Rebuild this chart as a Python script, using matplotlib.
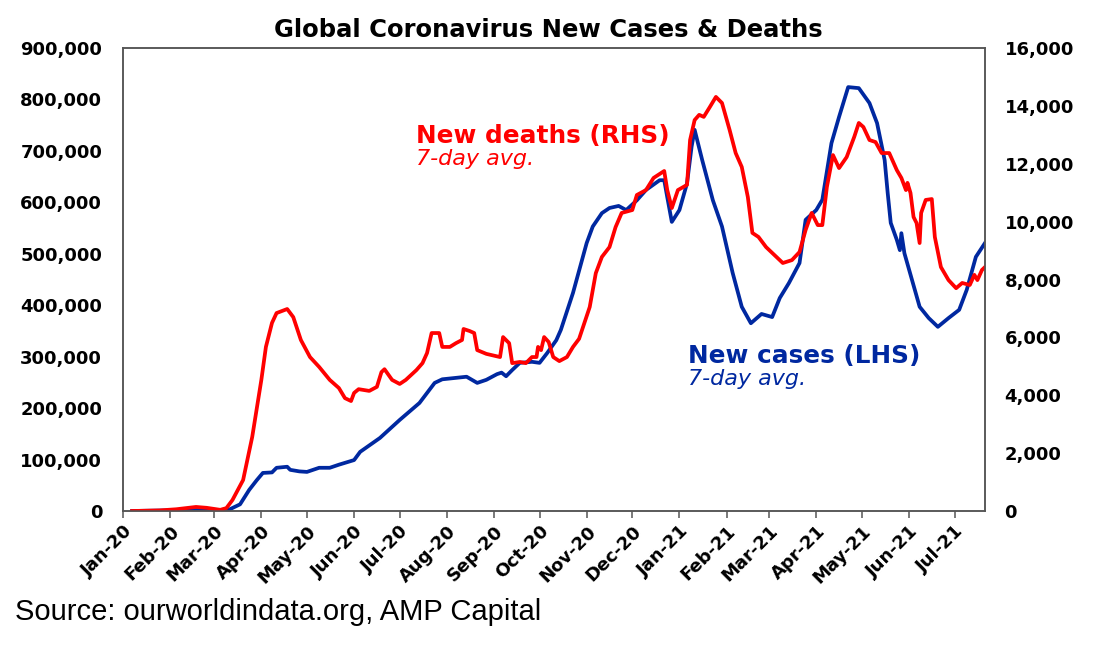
import numpy as np
import pandas as pd
import matplotlib
matplotlib.use('Agg')
import matplotlib.pyplot as plt
import matplotlib.dates as mdates
from matplotlib.ticker import FuncFormatter, MultipleLocator

# 7-day avg new cases (LHS)
case_dates = ['2020-01-07', '2020-02-16', '2020-03-01', '2020-03-05', '2020-03-11', '2020-03-18',
              '2020-03-24', '2020-03-29', '2020-04-02', '2020-04-08', '2020-04-11', '2020-04-18',
              '2020-04-20', '2020-04-26', '2020-05-01', '2020-05-09', '2020-05-16', '2020-05-22',
              '2020-06-01', '2020-06-05', '2020-06-18', '2020-07-01', '2020-07-14', '2020-07-24',
              '2020-07-29', '2020-08-14', '2020-08-21', '2020-08-27', '2020-09-03', '2020-09-06',
              '2020-09-09', '2020-09-13', '2020-09-18', '2020-09-26', '2020-10-01', '2020-10-06',
              '2020-10-12', '2020-10-15', '2020-10-23', '2020-11-01', '2020-11-05', '2020-11-11',
              '2020-11-16', '2020-11-22', '2020-11-27', '2020-12-04', '2020-12-10', '2020-12-19',
              '2020-12-22', '2020-12-24', '2020-12-27', '2021-01-01', '2021-01-06', '2021-01-09',
              '2021-01-11', '2021-01-16', '2021-01-23', '2021-01-29', '2021-02-05', '2021-02-11',
              '2021-02-17', '2021-02-24', '2021-03-03', '2021-03-08', '2021-03-14', '2021-03-21',
              '2021-03-25', '2021-04-01', '2021-04-05', '2021-04-11', '2021-04-16', '2021-04-22',
              '2021-04-29', '2021-05-06', '2021-05-11', '2021-05-16', '2021-05-18', '2021-05-20',
              '2021-05-24', '2021-05-26', '2021-05-27', '2021-05-29', '2021-06-03', '2021-06-08',
              '2021-06-14', '2021-06-20', '2021-06-27', '2021-07-04', '2021-07-09', '2021-07-15',
              '2021-07-21']
case_vals = [0, 2000, 1500, 2000, 3000, 13000,
             41000, 60000, 74000, 75000, 84000, 86000,
             80000, 77000, 76000, 84000, 84000, 90000,
             99000, 115000, 142000, 177000, 210000, 249000,
             256000, 261000, 249000, 255000, 266000, 269000,
             262000, 274000, 288000, 290000, 288000, 307000,
             332000, 352000, 424000, 521000, 553000, 579000,
             589000, 593000, 585000, 604000, 624000, 643000,
             643000, 610000, 562000, 585000, 637000, 708000,
             741000, 682000, 604000, 553000, 463000, 397000,
             365000, 383000, 377000, 414000, 443000, 482000,
             566000, 585000, 605000, 715000, 766000, 824000,
             822000, 793000, 754000, 682000, 618000, 560000,
             527000, 507000, 540000, 501000, 449000, 397000,
             375000, 358000, 375000, 391000, 430000, 494000,
             521000]

# 7-day avg new deaths (RHS)
death_dates = ['2020-01-07', '2020-01-25', '2020-02-05', '2020-02-18', '2020-02-25', '2020-03-05',
               '2020-03-09', '2020-03-13', '2020-03-20', '2020-03-26', '2020-04-01', '2020-04-04',
               '2020-04-08', '2020-04-11', '2020-04-18', '2020-04-22', '2020-04-27', '2020-05-03',
               '2020-05-09', '2020-05-16', '2020-05-22', '2020-05-26', '2020-05-30', '2020-06-01',
               '2020-06-04', '2020-06-11', '2020-06-16', '2020-06-19', '2020-06-21', '2020-06-26',
               '2020-07-01', '2020-07-05', '2020-07-12', '2020-07-16', '2020-07-19', '2020-07-22',
               '2020-07-27', '2020-07-29', '2020-08-03', '2020-08-07', '2020-08-11', '2020-08-12',
               '2020-08-16', '2020-08-19', '2020-08-21', '2020-08-27', '2020-09-05', '2020-09-07',
               '2020-09-11', '2020-09-13', '2020-09-18', '2020-09-22', '2020-09-26', '2020-09-29',
               '2020-09-30', '2020-10-02', '2020-10-04', '2020-10-07', '2020-10-10', '2020-10-14',
               '2020-10-19', '2020-10-23', '2020-10-27', '2020-11-03', '2020-11-07', '2020-11-11',
               '2020-11-16', '2020-11-20', '2020-11-24', '2020-12-01', '2020-12-04', '2020-12-10',
               '2020-12-15', '2020-12-22', '2020-12-24', '2020-12-27', '2020-12-31', '2021-01-06',
               '2021-01-08', '2021-01-11', '2021-01-14', '2021-01-17', '2021-01-21', '2021-01-25',
               '2021-01-29', '2021-02-03', '2021-02-07', '2021-02-11', '2021-02-15', '2021-02-18',
               '2021-02-22', '2021-02-27', '2021-03-03', '2021-03-10', '2021-03-16', '2021-03-21',
               '2021-03-25', '2021-03-29', '2021-04-02', '2021-04-05', '2021-04-08', '2021-04-12',
               '2021-04-16', '2021-04-21', '2021-04-26', '2021-04-29', '2021-05-02', '2021-05-06',
               '2021-05-10', '2021-05-14', '2021-05-19', '2021-05-24', '2021-05-27', '2021-05-30',
               '2021-05-31', '2021-06-02', '2021-06-04', '2021-06-06', '2021-06-08', '2021-06-09',
               '2021-06-12', '2021-06-16', '2021-06-18', '2021-06-22', '2021-06-27', '2021-07-02',
               '2021-07-06', '2021-07-11', '2021-07-14', '2021-07-16', '2021-07-19', '2021-07-21']
death_vals = [0, 20, 60, 140, 110, 40,
              100, 380, 1070, 2560, 4530, 5670,
              6500, 6840, 6980, 6700, 5910, 5320,
              4980, 4530, 4250, 3900, 3800, 4080,
              4210, 4150, 4290, 4800, 4900, 4530,
              4390, 4530, 4870, 5110, 5460, 6150,
              6150, 5670, 5670, 5800, 5910, 6290,
              6220, 6150, 5560, 5430, 5320, 6010,
              5800, 5110, 5150, 5110, 5320, 5320,
              5670, 5560, 6010, 5840, 5320, 5180,
              5320, 5670, 5950, 7050, 8220, 8780,
              9120, 9810, 10300, 10400, 10920, 11090,
              11510, 11750, 11090, 10470, 11090, 11270,
              12820, 13510, 13690, 13620, 13960, 14310,
              14100, 13170, 12370, 11890, 10850, 9610,
              9470, 9120, 8920, 8570, 8670, 8950,
              9710, 10300, 9880, 9880, 11200, 12300,
              11850, 12230, 12930, 13410, 13270, 12820,
              12750, 12370, 12370, 11780, 11510, 11090,
              11340, 10990, 10160, 9950, 9260, 10300,
              10750, 10780, 9470, 8430, 7980, 7700,
              7880, 7810, 8160, 7980, 8330, 8430]

RED = '#FF0000'
BLUE = '#0028A0'
GRAY = '#555555'

case_dt = pd.to_datetime(case_dates)
death_dt = pd.to_datetime(death_dates)

fig = plt.figure(figsize=(11.06, 6.53), dpi=100)
ax = fig.add_axes([123 / 1106, 1 - 511 / 653, (985 - 123) / 1106, (511 - 48) / 653])
ax2 = ax.twinx()

ax.plot(case_dt, case_vals, color=BLUE, lw=2.7, solid_joinstyle='round')
ax2.plot(death_dt, death_vals, color=RED, lw=2.7, solid_joinstyle='round')

ax.set_xlim(pd.Timestamp('2020-01-01'), pd.Timestamp('2021-07-21'))
ax.set_ylim(0, 900000)
ax2.set_ylim(0, 16000)
ax.yaxis.set_major_locator(MultipleLocator(100000))
ax2.yaxis.set_major_locator(MultipleLocator(2000))
comma = FuncFormatter(lambda v, p: f'{int(v):,}')
ax.yaxis.set_major_formatter(comma)
ax2.yaxis.set_major_formatter(comma)

ax.xaxis.set_major_locator(mdates.MonthLocator())
ax.xaxis.set_major_formatter(mdates.DateFormatter('%b-%y'))

tick_font = dict(family='DejaVu Sans', weight='bold', size=13)
for lab in ax.get_yticklabels() + ax2.get_yticklabels():
    lab.set_fontproperties(matplotlib.font_manager.FontProperties(**tick_font))
ax.tick_params(axis='y', length=0, pad=15)
ax2.tick_params(axis='y', length=0, pad=14)
ax.tick_params(axis='x', length=5, width=1.1, color=GRAY, pad=3)
for lab in ax.get_xticklabels():
    lab.set_fontproperties(matplotlib.font_manager.FontProperties(**tick_font))
    lab.set_rotation(45)
    lab.set_ha('right')
    lab.set_va('top')
    lab.set_rotation_mode('anchor')

for a in (ax, ax2):
    for sp in a.spines.values():
        sp.set_color(GRAY)
        sp.set_linewidth(1.1)

def px(x, y):
    return x / 1106, 1 - y / 653

fig.text(*px(548, 37), 'Global Coronavirus New Cases & Deaths', ha='center', va='baseline',
         family='DejaVu Sans', weight='bold', size=17.5)
fig.text(*px(416, 143), 'New deaths (RHS)', color=RED, ha='left', va='baseline',
         family='DejaVu Sans', weight='bold', size=17.8)
fig.text(*px(416, 165), '7-day avg.', color=RED, ha='left', va='baseline',
         family='DejaVu Sans', style='italic', size=16)
fig.text(*px(688, 363), 'New cases (LHS)', color=BLUE, ha='left', va='baseline',
         family='DejaVu Sans', weight='bold', size=17.8)
fig.text(*px(688, 385), '7-day avg.', color=BLUE, ha='left', va='baseline',
         family='DejaVu Sans', style='italic', size=16)
fig.text(*px(15, 620), 'Source: ourworldindata.org, AMP Capital', ha='left', va='baseline',
         family='Liberation Sans', size=21)

fig.savefig('out.png', dpi=100)
